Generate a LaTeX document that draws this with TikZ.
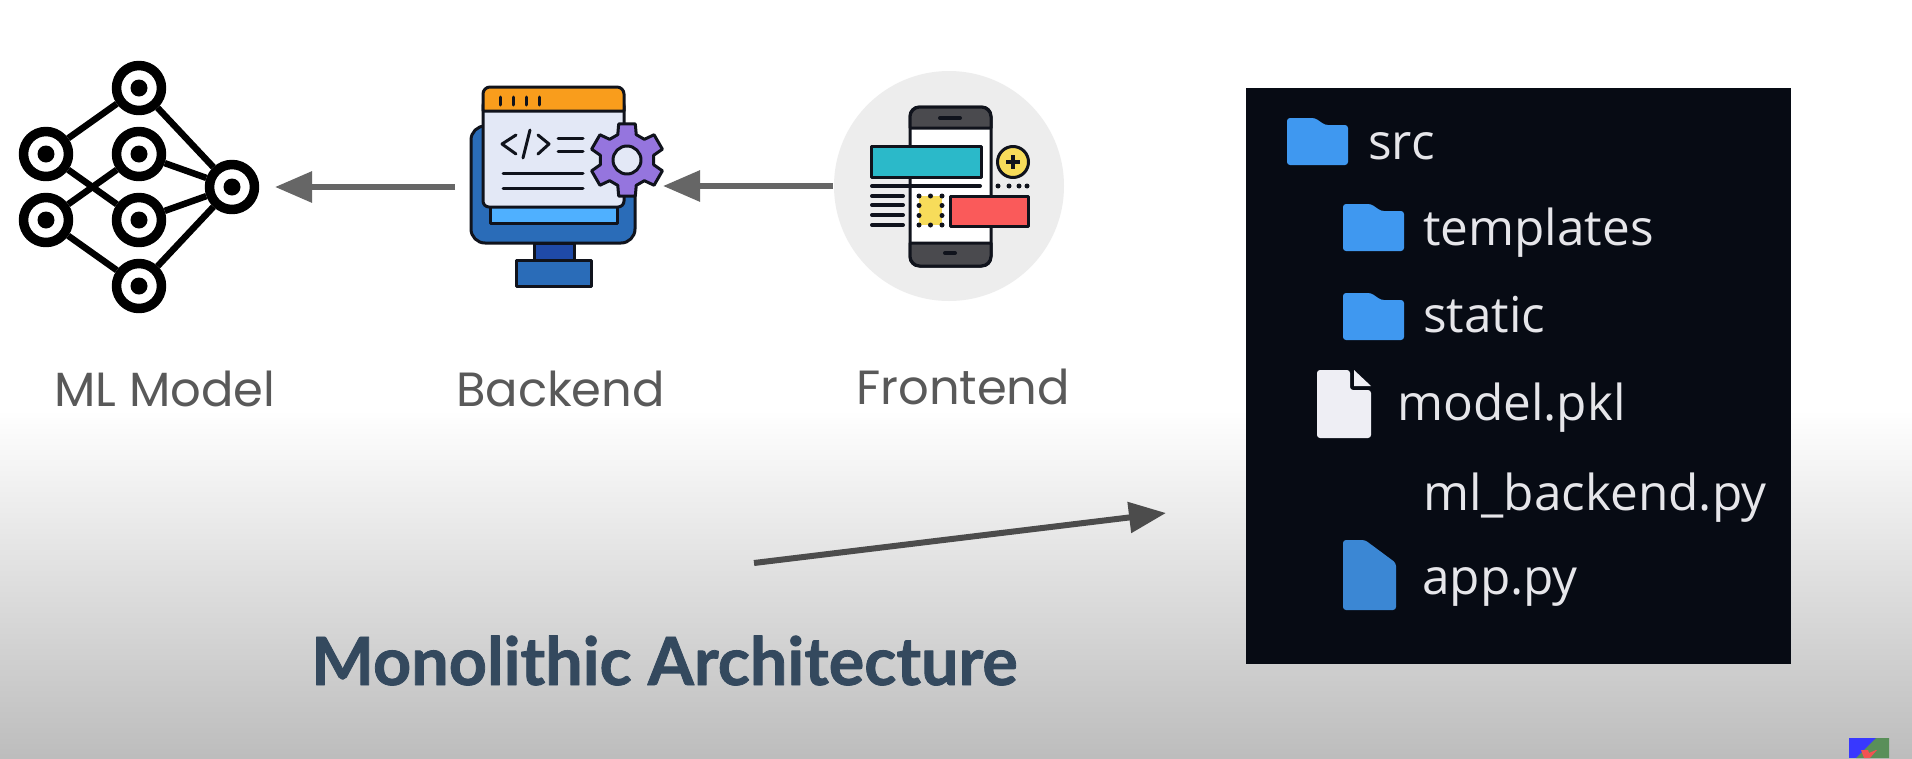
\documentclass[tikz,border=0pt]{standalone}
\usepackage{fontspec}
\setmainfont{Poppins}
\newfontfamily\titlefont[BoldFeatures={FakeBold=1.2}]{Lato}
\newfontfamily\treefont{Open Sans}
\usetikzlibrary{arrows.meta}
\definecolor{inkblack}{HTML}{10131C}
\definecolor{flowgrey}{HTML}{666666}
\definecolor{labelgrey}{HTML}{595959}
\definecolor{titleblue}{HTML}{34495E}
\definecolor{panelblack}{HTML}{070B14}
\definecolor{folderblue}{HTML}{3F98F0}
\definecolor{appblue}{HTML}{3B87D4}
\definecolor{filewhite}{HTML}{EEEEF4}
\definecolor{treewhite}{HTML}{E6E6EA}
\definecolor{screenblue}{HTML}{2A6CB8}
\definecolor{standblue}{HTML}{1F4AA8}
\definecolor{stripblue}{HTML}{4FB0FF}
\definecolor{paperblue}{HTML}{E3E8F6}
\definecolor{barorange}{HTML}{F99D1C}
\definecolor{gearpurple}{HTML}{9575DE}
\definecolor{phonegrey}{HTML}{4A4A4E}
\definecolor{tealbar}{HTML}{2BB9C9}
\definecolor{redbar}{HTML}{FA5A5A}
\definecolor{yellowdot}{HTML}{F7DC5A}
\tikzset{
	nnode/.style={circle,draw=black,line width=9.5pt,fill=white,minimum size=45pt,inner sep=0pt},
	nlink/.style={line width=6.5pt,black},
	flow/.style={flowgrey,line width=6pt,-{Triangle[length=37pt,width=30pt]}},
	icon/.style={draw=inkblack,line width=3pt,line join=round},
	ink/.style={inkblack,line width=3pt,line cap=round},
	caption/.style={anchor=base west,inner sep=0pt,text=labelgrey,font=\fontsize{48}{52}\selectfont},
	treetext/.style={anchor=base west,inner sep=0pt,text=treewhite,font=\treefont\fontsize{49.5}{54}\selectfont},
}
\newcommand{\foldericon}[2]{%
	\fill[folderblue,rounded corners=3pt] (#1,#2) -- (#1+28,#2) -- (#1+38,#2+7) -- (#1+61,#2+7) -- (#1+61,#2+47) -- (#1,#2+47) -- cycle;}
\begin{document}
\begin{tikzpicture}[x=1pt,y=-1pt,>=stealth,line join=round]
	\useasboundingbox (0,0) rectangle (1912,758);
	\fill[white] (0,0) rectangle (1912,758);
	\shade[top color=white,bottom color=black!26,shading angle=0] (0,410) rectangle (1912,758);
	% ML model
	\node[nnode] (top) at (139,88) {};
	\node[nnode] (lup) at (46,154) {};
	\node[nnode] (llo) at (46,220) {};
	\node[nnode] (mup) at (139,154) {};
	\node[nnode] (mlo) at (139,220) {};
	\node[nnode] (bot) at (139,286) {};
	\node[nnode] (out) at (232,187) {};
	\draw[nlink] (top) -- (lup);
	\draw[nlink] (top) -- (out);
	\draw[nlink] (lup) -- (mlo);
	\draw[nlink] (llo) -- (mup);
	\draw[nlink] (llo) -- (bot);
	\draw[nlink] (mup) -- (out);
	\draw[nlink] (mlo) -- (out);
	\draw[nlink] (bot) -- (out);
	\foreach \p in {top,lup,llo,mup,mlo,bot,out} \fill[black] (\p) circle (8.5);
	% backend
	\draw[icon,fill=screenblue,rounded corners=14pt] (471,126) rectangle (635,243);
	\draw[icon,fill=standblue] (534,243) rectangle (574,260);
	\draw[icon,fill=screenblue] (516,260) rectangle (591,286);
	\draw[icon,fill=stripblue] (490,205) rectangle (617,223);
	\draw[icon,fill=paperblue,rounded corners=6pt] (483,100) rectangle (624,207);
	\draw[icon,fill=barorange] (483,111) [rounded corners=7pt] -- (483,87) -- (624,87) [sharp corners] -- (624,111) -- cycle;
	\foreach \x in {500,513,526,539} \draw[ink] (\x,97) -- (\x,105);
	\draw[ink] (516,135) -- (502,144) -- (516,154);
	\draw[ink] (530,130) -- (523,158);
	\draw[ink] (538,135) -- (549,144) -- (538,154);
	\foreach \y in {138,151} \draw[ink] (558,\y) -- (583,\y);
	\foreach \y in {173,188} \draw[ink] (503,\y) -- (583,\y);
	\draw[icon,fill=gearpurple,shift={(627,160)}] (10:27)
		\foreach \a in {30,90,...,330} { -- (\a-20:27) -- (\a-13:37) -- (\a+13:37) -- (\a+20:27) } -- cycle;
	\draw[icon,fill=paperblue] (627,160) circle (14);
	% frontend
	\fill[black!7] (949,186) circle (115);
	\draw[icon,fill=white,rounded corners=9pt] (910,107) rectangle (991,266);
	\draw[icon,fill=phonegrey] (910,128) [rounded corners=10pt] -- (910,107) -- (991,107) [sharp corners] -- (991,128) -- cycle;
	\draw[icon,fill=phonegrey] (910,243) [rounded corners=10pt] -- (910,266) -- (991,266) [sharp corners] -- (991,243) -- cycle;
	\draw[ink,line width=4pt] (940,118) -- (960,118);
	\draw[ink,line width=4pt] (945,253) -- (955,253);
	\draw[icon,fill=tealbar] (871,146) rectangle (981,177);
	\draw[icon,fill=yellowdot] (1013,162) circle (15.5);
	\draw[ink,line width=3.5pt,line cap=butt] (1013,155) -- (1013,169);
	\draw[ink,line width=3.5pt,line cap=butt] (1006,162) -- (1020,162);
	\draw[ink,line width=4pt] (872,186) -- (980,186);
	\foreach \y in {196,205,215,225} \draw[ink,line width=4pt] (872,\y) -- (903,\y);
	\foreach \x in {998,1009,1019,1027} \fill[inkblack] (\x,186) circle (2.5);
	\fill[yellowdot] (919,196) rectangle (942,225);
	\foreach \x in {919,930.5,942} \foreach \y in {196,225} \fill[inkblack] (\x,\y) circle (2.5);
	\foreach \x in {919,942} \foreach \y in {205.5,215.5} \fill[inkblack] (\x,\y) circle (2.5);
	\draw[icon,fill=redbar] (950,196) rectangle (1028,226);
	% flow arrows
	\coordinate (nnright) at (275,187);
	\coordinate (backleft) at (455,187);
	\coordinate (backright) at (663,186);
	\coordinate (frontleft) at (833,186);
	\coordinate (linkstart) at (754,563);
	\coordinate (linkend) at (1166,513);
	\draw[flow] (backleft) -- (nnright);
	\draw[flow] (frontleft) -- (backright);
	\draw[flow,line width=6pt,draw=black!70,fill=black!70] (linkstart) -- (linkend);
	% labels
	\node[caption] (mllabel) at (54,406) {ML Model};
	\node[caption] (backlabel) at (456,406) {Backend};
	\node[caption] (frontlabel) at (856,404) {Frontend};
	\node[anchor=base west,inner sep=0pt,text=titleblue,font=\titlefont\bfseries\fontsize{66.5}{72}\selectfont] (title) at (311,685) {Monolithic Architecture};
	% file tree
	\fill[panelblack] (1246,88) rectangle (1791,664);
	\foldericon{1287}{118}
	\foldericon{1343}{204}
	\foldericon{1343}{293}
	\fill[filewhite,rounded corners=3pt] (1317,370) -- (1350,370) -- (1350,390) -- (1371,390) -- (1371,438) -- (1317,438) -- cycle;
	\fill[filewhite] (1354,370) -- (1371,386) -- (1354,386) -- cycle;
	\fill[appblue,rounded corners=3pt] (1343,540) -- (1365,540) -- (1396,563) -- (1396,610) -- (1343,610) -- cycle;
	\node[treetext] (src) at (1368,159) {src};
	\node[treetext] (templates) at (1423,245) {templates};
	\node[treetext] (static) at (1423,332) {static};
	\node[treetext] (modelpkl) at (1397,420) {model.pkl};
	\node[treetext] (backendpy) at (1423,510) {ml\_backend.py};
	\node[treetext] (apppy) at (1422,594) {app.py};
	% corner mark
	\fill[blue!78!white] (1849,738) rectangle (1889,758);
	\fill[black!30!green!30!gray] (1876,738) -- (1889,738) -- (1889,758) -- (1856,758) -- cycle;
	\fill[red!70!white!90!gray] (1861,750) -- (1868,750) -- (1869,753) -- (1876,750) -- (1877,750) -- (1870,758) -- (1864,758) -- cycle;
\end{tikzpicture}
\end{document}
